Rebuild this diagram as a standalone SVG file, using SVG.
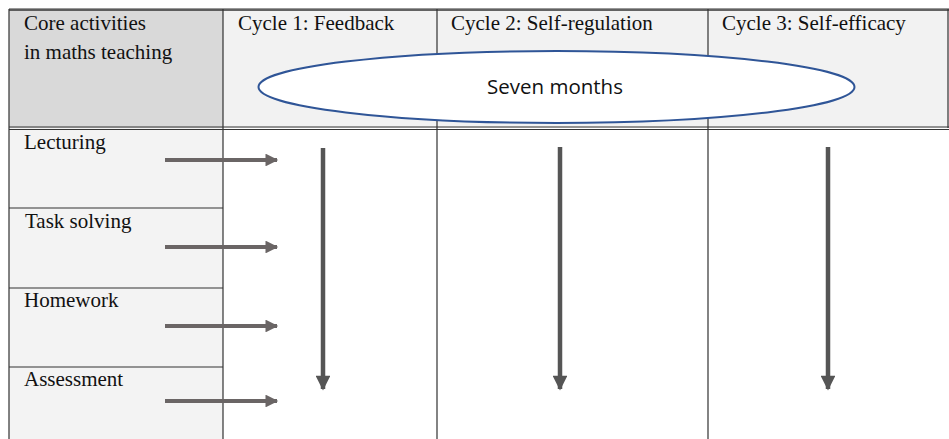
<svg xmlns="http://www.w3.org/2000/svg" width="949" height="439" viewBox="0 0 949 439">
<defs>
<style>
.t{font-family:"Liberation Serif","Times New Roman",serif;font-size:21px;fill:#111}
.s{font-family:"Open Sans","Liberation Sans",sans-serif;font-size:20.5px;fill:#111}
.g{stroke:#333;stroke-width:1.2;fill:none}
.ha{stroke:#6a6565;stroke-width:4;fill:none}
.va{stroke:#555;stroke-width:4.5;fill:none}
</style>
<marker id="mh" viewBox="0 0 10 10" refX="9" refY="5" markerWidth="4" markerHeight="3.2" orient="auto" markerUnits="strokeWidth">
<path d="M0,0L10,5L0,10z" fill="#6a6565"/>
</marker>
<marker id="mv" viewBox="0 0 10 10" refX="9" refY="5" markerWidth="3.6" markerHeight="3.3" orient="auto" markerUnits="strokeWidth">
<path d="M0,0L10,5L0,10z" fill="#555"/>
</marker>
</defs>
<rect width="949" height="439" fill="#fff"/>
<g id="header">
<rect x="9" y="9" width="214" height="119" fill="#d9d9d9"/>
<rect x="223" y="9" width="726" height="119" fill="#f2f2f2"/>
<rect x="9" y="128" width="214" height="311" fill="#f3f3f3"/>
</g>
<g id="grid">
<path class="g" d="M9,9H949M9,9V439M223,9V439M437,9V128M437,128V439M708,9V439M948,9V128"/>
<path class="g" d="M9,127H949M9,129.5H949M9,208H223M9,288H223M9,367H223"/>
<path class="g" d="M9,10.2H949"/>
</g>
<g id="n-core"><text class="t" x="24" y="30">Core activities</text><text class="t" x="24" y="59">in maths teaching</text></g>
<g id="n-c1"><text class="t" x="238" y="30">Cycle 1: Feedback</text></g>
<g id="n-c2"><text class="t" x="451" y="30">Cycle 2: Self-regulation</text></g>
<g id="n-c3"><text class="t" x="722" y="30">Cycle 3: Self-efficacy</text></g>
<g id="n-months">
<ellipse cx="556.5" cy="87" rx="298" ry="36" fill="#fff" stroke="#2f5597" stroke-width="2"/>
<text class="s" x="555" y="94" text-anchor="middle">Seven months</text>
</g>
<g id="n-lect"><text class="t" x="24" y="149">Lecturing</text></g>
<g id="n-task"><text class="t" x="25" y="228">Task solving</text></g>
<g id="n-home"><text class="t" x="24" y="307">Homework</text></g>
<g id="n-assess"><text class="t" x="24" y="386">Assessment</text></g>
<g id="connectors">
<path class="ha" d="M165,160H277" marker-end="url(#mh)"/>
<path class="ha" d="M165,247H277" marker-end="url(#mh)"/>
<path class="ha" d="M165,326H277" marker-end="url(#mh)"/>
<path class="ha" d="M165,401H277" marker-end="url(#mh)"/>
<path class="va" d="M323,148V389" marker-end="url(#mv)"/>
<path class="va" d="M560,147V389" marker-end="url(#mv)"/>
<path class="va" d="M828,147V389" marker-end="url(#mv)"/>
</g>
</svg>
